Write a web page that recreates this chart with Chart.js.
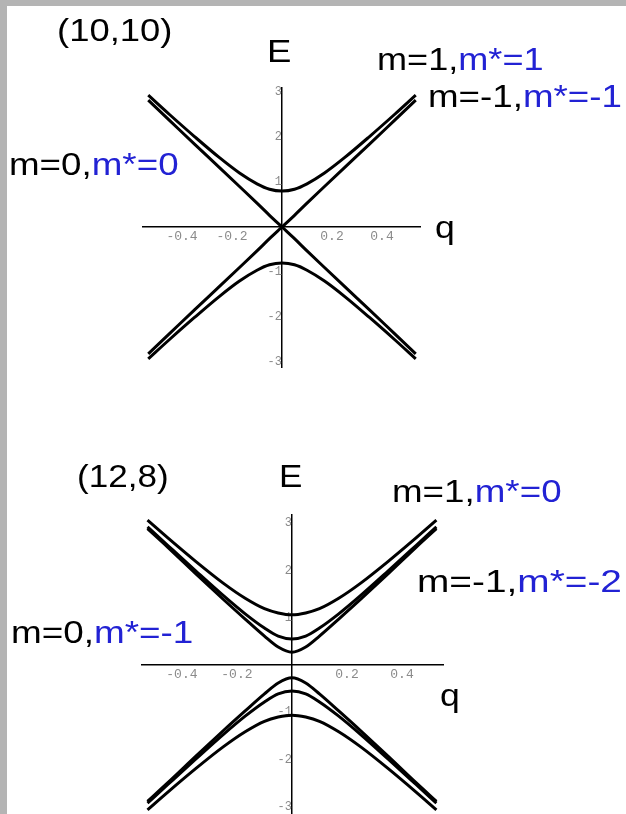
<!DOCTYPE html>
<html>
<head>
<meta charset="utf-8">
<script src="https://cdn.jsdelivr.net/npm/chart.js@4.4.1/dist/chart.umd.min.js"></script>
<style>
  html, body { margin: 0; padding: 0; background: #fff; overflow: hidden; }
  body { width: 626px; height: 814px; position: relative; }
  .strip { position: absolute; background: #b4b4b4; }
  .plot { position: absolute; left: 0; }
  .lbl {
    position: absolute; white-space: nowrap;
    font: 32px "Liberation Sans", Arial, sans-serif; line-height: 32px;
    color: #000; transform-origin: 0 0;
  }
  .lbl .b { color: #2222d4; }
</style>
</head>
<body>
<div class="strip" style="left:0;top:0;width:7px;height:814px"></div>
<div class="strip" style="left:0;top:0;width:626px;height:6px"></div>

<div class="plot" style="top:0;width:626px;height:400px"><canvas id="top" width="626" height="400"></canvas></div>
<div class="plot" style="top:400px;width:626px;height:430px"><canvas id="bottom" width="626" height="430"></canvas></div>

<script>
// momentum q (x) and energy E (y)
const topQ = [-0.535, -0.45, -0.35, -0.25, -0.17, -0.1, -0.05, 0, 0.05, 0.1, 0.17, 0.25, 0.35, 0.45, 0.535];
const topUpper = [2.93, 2.50, 2.01, 1.54, 1.20, 0.96, 0.84, 0.80, 0.84, 0.96, 1.20, 1.54, 2.01, 2.50, 2.93];
const topLower = [-2.93, -2.50, -2.01, -1.54, -1.20, -0.96, -0.84, -0.80, -0.84, -0.96, -1.20, -1.54, -2.01, -2.50, -2.93];
const topRising = [-2.82, -2.37, -1.84, -1.32, -0.90, -0.53, -0.26, 0, 0.26, 0.53, 0.90, 1.32, 1.84, 2.37, 2.82];
const topFalling = [2.82, 2.37, 1.84, 1.32, 0.90, 0.53, 0.26, 0, -0.26, -0.53, -0.90, -1.32, -1.84, -2.37, -2.82];

const botQ = [-0.525, -0.45, -0.35, -0.25, -0.17, -0.1, -0.05, 0, 0.05, 0.1, 0.17, 0.25, 0.35, 0.45, 0.525];
const botUp1 = [3.06, 2.68, 2.19, 1.73, 1.41, 1.19, 1.10, 1.06, 1.10, 1.19, 1.41, 1.73, 2.19, 2.68, 3.06];
const botUp2 = [2.92, 2.52, 1.99, 1.47, 1.08, 0.78, 0.61, 0.55, 0.61, 0.78, 1.08, 1.47, 1.99, 2.52, 2.92];
const botUp3 = [2.88, 2.48, 1.93, 1.39, 0.97, 0.61, 0.38, 0.27, 0.38, 0.61, 0.97, 1.39, 1.93, 2.48, 2.88];
const botLo3 = [-2.88, -2.48, -1.93, -1.39, -0.97, -0.61, -0.38, -0.27, -0.38, -0.61, -0.97, -1.39, -1.93, -2.48, -2.88];
const botLo2 = [-2.92, -2.52, -1.99, -1.47, -1.08, -0.78, -0.61, -0.55, -0.61, -0.78, -1.08, -1.47, -1.99, -2.52, -2.92];
const botLo1 = [-3.06, -2.68, -2.19, -1.73, -1.41, -1.19, -1.10, -1.06, -1.10, -1.19, -1.41, -1.73, -2.19, -2.68, -3.06];

const xTicks = [-0.4, -0.2, 0.2, 0.4];
const xTickLabels = ['-0.4', '-0.2', '0.2', '0.4'];
const yTicks = [-3, -2, -1, 1, 2, 3];
const yTickLabels = ['-3', '-2', '-1', '1', '2', '3'];

function series(qs, es) {
  return {
    data: qs.map((q, i) => ({ x: q, y: es[i] })),
    borderColor: '#000', borderWidth: 3, pointRadius: 0,
    cubicInterpolationMode: 'monotone', fill: false
  };
}

function plot(id, qs, curves, xr, yr, pad) {
  new Chart(document.getElementById(id), {
    type: 'line',
    data: { datasets: curves.map(c => series(qs, c)) },
    options: {
      responsive: false, animation: false,
      layout: { padding: pad },
      plugins: { legend: { display: false }, tooltip: { enabled: false } },
      scales: {
        x: {
          type: 'linear', min: xr[0], max: xr[1], position: { y: 0 },
          grid: { display: false, drawTicks: false },
          border: { display: true, color: '#000', width: 1.5 },
          afterBuildTicks: s => { s.ticks = xTicks.map(v => ({ value: v })); },
          ticks: {
            autoSkip: false, maxRotation: 0, padding: 2, color: '#8a8a8a',
            font: { family: 'Liberation Mono', size: 13 },
            callback: v => xTickLabels[xTicks.indexOf(v)]
          }
        },
        y: {
          type: 'linear', min: yr[0], max: yr[1], position: { x: 0 },
          grid: { display: false, drawTicks: false },
          border: { display: true, color: '#000', width: 1.5 },
          afterBuildTicks: s => { s.ticks = yTicks.map(v => ({ value: v })); },
          ticks: {
            autoSkip: false, padding: 2, color: '#8a8a8a',
            font: { family: 'Liberation Mono', size: 12 },
            callback: v => yTickLabels[yTicks.indexOf(v)]
          }
        }
      }
    }
  });
}

plot('top', topQ, [topUpper, topLower, topRising, topFalling],
  [-0.556, 0.552], [-3.111, 3.089], { left: 143, right: 206, top: 88, bottom: 33 });
plot('bottom', botQ, [botUp1, botUp2, botUp3, botLo3, botLo2, botLo1],
  [-0.545, 0.549], [-3.17, 3.17], { left: 142, right: 183, top: 115, bottom: 15 });

// text labels: [black part, blue part, left, baseline, width]
const labels = [
  ['(10,10)', '', 57, 41, 115],
  ['E', '', 267, 62, 24],
  ['m=1,', 'm*=1', 377, 70, 167],
  ['m=-1,', 'm*=-1', 428, 107, 194],
  ['m=0,', 'm*=0', 9, 175, 170],
  ['q', '', 435, 238, 20],
  ['(12,8)', '', 77, 487, 92],
  ['E', '', 279, 487, 23],
  ['m=1,', 'm*=0', 392, 502, 170],
  ['m=-1,', 'm*=-2', 417, 592, 205],
  ['m=0,', 'm*=-1', 11, 643, 182],
  ['q', '', 440, 706, 20]
];
labels.forEach(([a, b, x, y, w]) => {
  const el = document.createElement('div');
  el.className = 'lbl';
  el.textContent = a;
  if (b) {
    const s = document.createElement('span');
    s.className = 'b';
    s.textContent = b;
    el.appendChild(s);
  }
  el.style.left = x + 'px';
  el.style.top = (y - 27) + 'px';
  document.body.appendChild(el);
  el.style.transform = 'scaleX(' + (w / el.offsetWidth) + ')';
});
</script>
</body>
</html>
